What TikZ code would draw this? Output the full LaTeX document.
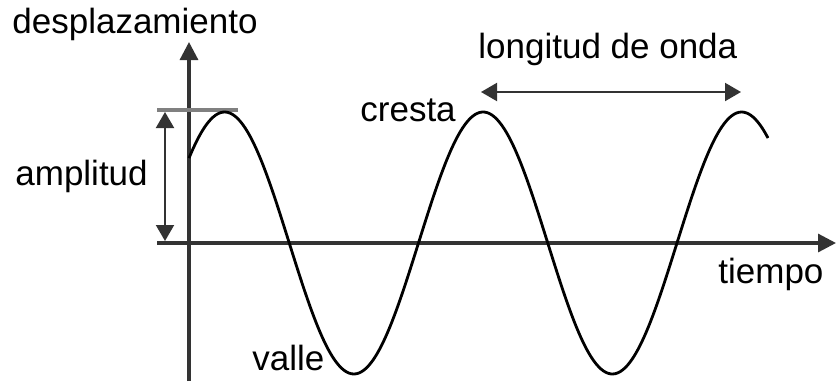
\documentclass[tikz,border=0pt]{standalone}
\usepackage{fontspec}
\setmainfont{Liberation Sans}
\usetikzlibrary{arrows.meta}
\colorlet{axisGray}{black!80}
\colorlet{tickGray}{black!50}

\begin{document}
\begin{tikzpicture}[x=0.5pt, y=-0.5pt, font=\fontsize{17.5}{20}\selectfont,
    lbl/.style={inner sep=0pt, anchor=base west},
    tip/.style={-{Triangle[length=9pt, width=9pt]}},
    dtip/.style={{Triangle[length=8pt, width=9pt]}-{Triangle[length=8pt, width=9pt]}}]
    \useasboundingbox (0,0) rectangle (837,381);
    % axes
    \coordinate (ybot) at (189,381);
    \coordinate (ytop) at (189,42);
    \coordinate (xleft) at (157,243);
    \coordinate (xright) at (836,243);
    \draw[tip, line width=1.6pt, axisGray] (ybot) -- (ytop);
    \draw[tip, line width=1.6pt, axisGray] (xleft) -- (xright);
    % amplitude
    \coordinate (tickl) at (157,110);
    \coordinate (tickr) at (238,110);
    \coordinate (amptop) at (165,112);
    \coordinate (ampbot) at (165,241);
    \draw[line width=1.6pt, tickGray] (tickl) -- (tickr);
    \draw[dtip, line width=1pt, axisGray] (amptop) -- (ampbot);
    % wavelength
    \coordinate (wlleft) at (481,92);
    \coordinate (wlright) at (741,92);
    \draw[dtip, line width=1pt, axisGray] (wlleft) -- (wlright);
    % wave
    \draw[line width=1.4pt, domain=189:768, samples=240, smooth]
        plot (\x, {243-131*sin(1.39265*(\x-160))});
    % labels
    \node[lbl] (despl) at (12,33) {desplazamiento};
    \node[lbl] (lond) at (478,58) {longitud de onda};
    \node[lbl] (ampl) at (15,185) {amplitud};
    \node[lbl] (cresta) at (360,121) {cresta};
    \node[lbl] (tiempo) at (718,283) {tiempo};
    \node[lbl] (valle) at (252,370) {valle};
\end{tikzpicture}
\end{document}
